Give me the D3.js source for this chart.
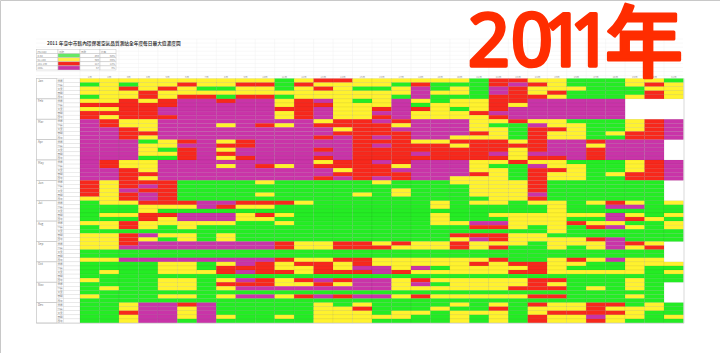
<!DOCTYPE html>
<html><head><meta charset="utf-8">
<script src="https://cdn.jsdelivr.net/npm/d3@7"></script>
<style>html,body{margin:0;padding:0;background:#fff}svg{display:block}text{font-family:"Noto Sans CJK TC","Noto Sans",sans-serif}</style>
</head><body><svg id="c" width="720" height="353"></svg>
<script>
const bigYear = "2011", bigUnit = "年";
const title = "2011 年臺中市轄內環保署空氣品質測站全年度每日最大值濃度圖";
const months = ["Jan","Feb","Mar","Apr","May","Jun","Jul","Aug","Sep","Oct","Nov","Dec"];
const stations = ["豐原","沙鹿","大里","忠明","西屯"];
const days = ["1日","2日","3日","4日","5日","6日","7日","8日","9日","10日","11日","12日","13日","14日","15日","16日","17日","18日","19日","20日","21日","22日","23日","24日","25日","26日","27日","28日","29日","30日","31日"];
const levels = ["G","Y","R","P"];
const levelColors = ["#24ec24","#fff22e","#f7281c","#c934a8"];
const legendHead = ["PSI/AQI","色階","日數","比率"];
const legendRange = ["0-50","51-100","101-199","200+"];
const legendColors = ["#66e866","#fff04a","#f5261c","#c733a6"];
const legendDays = ["869","609","217","57"];
const legendPct = ["50%","35%","12%","3%"];
// one string per station row, one letter per day; _ = no such date
const grid = [
"YYYYYYYYYYGYRRYYYYYYGRRYYGGGYYG","GYGYYRYYRRGRYYYYGRGGGRPRYGGGYRY","YYRYRYGGYYGYRYGGYPGYGPRYYYGGGYY","YYYRYYYYYYYYYYYYYPYYGPRYRGGGGRY","GYYRYRRGRRGYYYYYGPGGGRRRYGGGYRY",
"YYRYRPPRPPYRPYGYPYGYYRRPPPPP___","RRRRRPPPPPYRRYYYPGYYYRYPPPPP___","YYRRPPPPPPRRPYYRPRYGYRPPPPPP___","RRRRPPPPPPYRPYYPPYYYRPPPPPPP___","RYRRRPPPPPYRPYYRPYYYYRPPPPPP___",
"PRYYPPPPPPPPYRRPRPPPYYRYYGGGYRP","PRYYPPPYPRYPRRRRYPPPYGGPYYGGYRP","PPRYPPPPPPPPPYRRPPPPYYGRRYGGYRP","PPRRPPPPPPPPPRRRRPPPRYGRYYGYRRP","PPRYPPPPPPPPRPRPRPPYYYGRYYGGRRP",
"PPPGYRPYRPPPPPRRRYYRRRYRPPRPPP_","PPPYYPPRRPPPPPRPRRRYRRRRPPYPPP_","PPPYGRPYPPPPRPRRRRRRRRYRPPRPPP_","PPPYYRPRPPPPPPRRRPRRRPYPPPRPPP_","PPPGGRPYRPPPRPRRRRRRRRYRRPRPPP_",
"PRYYPPPPPPPPYRRPRPPPYYRYYGGGYRP","PRYYPPPYPRYPRRRRYPPPYGGPYYGGYRP","PPRYPPPPPPPPPYRRPPPPYYGRRYGGYRP","PPRRPPPPPPPPPRRRRPPPRYGRYYGYRRP","PPRYPPPPPPPPRPRPRPPYYYGRYYGGRRP",
"RYRRRGGGGYGGGGGYGGGYYYYRGGGGGG_","RYRPRGGGGGGGGGGGGGGGYYYRGGGGGG_","RYPRRGGGGGGGGGGGYGGGYYYRGGGGGG_","RYRPRGGGGYGGGGYGYGGGYYYPGGGGGG_","YYRPRGGGGGGGGGGGGGGGGYYRGGGGGG_",
"GYYRRRPPRRRYGGGGGGYGYYGYYGYRYGY","GGGYYYPRYYGGGGGGGGYGGGGGYGGPPGG","GGGYGGGGGGGGGGGGGGGGGGGGYGGGGGG","GYYRRPPPYRYGGGGGGGYGGYYYYYYPYGY","GGGRYPPPYYGGGGGGGGYGGGYYYGGPRYG",
"YYRYYYYYGGYGGGGGGGYYPPYYYRYYGGY","GYRYGYGGGGGGGGGGGGGGRRYGYGRPYGY","GGGGGGGGGGGGGGGGGGGGGGGGYGGGGGG","YYRPYYGYGGGGGGGGGGGRRRYYGGGGGGG","YYRYGYGYGGGGGGGGGGGYPRYYYYRPGGG",
"YYRPPPPPPPRYYRRYRYYRYYYGYYYPRY_","YYPPPPPPPPRYYRRRYYYRYRGGYGYPYR_","GGGGGGGGGGGGGGGGGGGGGGGGGGGGGG_","GGGGGGGGGGGGGGGGGGGGGGGGGGGGGG_","YYPPPPPPPPRYYRRYYYYYYRGGYRYPYY_",
"GGGGYYGYPRYRRYRYYYYYRYRRYYGGYYY","GGGGYYGRRRYYRYPPYPGYYYYRYGGGYGG","GYGGYYYRPRRYRRRPRYYYYYRRYYYYYGY","GGGGGGGGGGGGGGGGGGGGGGGGGGGGGGG","YGGGYYGYPRYRPRPPYRYYYYYRRGGGYGG",
"GGGGYYGRRRYYRYPPYPGYYYYRYGGGYG_","GYGGYYGYPPPPPPPPYYYYYYRRRGYGYG_","GGGGGGGGGGGGGGGGGGGGGGGGGGGGGG_","YGGGYYGYPPYRPRPPYRYYYYYRRGGGYG_","GGGGGGGGGGGGGGGGGGGGGGGGGGGGGG_",
"GGYPPRPGGGGGYGYGGGGYGYGRYYRRGYG","GGYPPYPGGGGGYYRGGGYGGRGYYYRYYYG","GGRPPYPGGGGGYYYGYYGYYYGYRRRRYGG","GGYPPYPYGGYGYYYYYGGYGYGRYYPYYGY","GGYPPGPGGGGGYYYGGGGYGYGRYYRYGGG"
];

const svg = d3.select("#c");
const cells = grid.flatMap((s,r)=>Array.from(s).map((v,c)=>({r,c,v})));
const rowIds = d3.range(grid.length);
const x = d3.scaleBand().domain(days).range([80,683.5]);
const y = d3.scaleBand().domain(rowIds).range([78.5,323]);
const color = d3.scaleOrdinal().domain(levels).range(levelColors);

svg.append("rect").attr("width",720).attr("height",353).attr("fill","#fff");
svg.append("path").attr("d","M0.5,353V0.5H720").attr("fill","none").attr("stroke","#c8c8c8");

// faint spreadsheet grid above the table
const g0 = svg.append("g").attr("stroke","#f0f0f0").attr("stroke-width",0.5);
days.forEach(d=>g0.append("line").attr("x1",x(d)).attr("x2",x(d)).attr("y1",39).attr("y2",78));
d3.range(39,78,4.07).forEach(v=>g0.append("line").attr("x1",36).attr("x2",683).attr("y1",v).attr("y2",v));

// title
svg.append("text").attr("x",47).attr("y",44.6).attr("font-size",4.7).attr("font-weight",500).attr("fill","#222").text(title);

// legend
const lx = [36.5,58,80,100,116], ly = d3.scaleBand().domain(d3.range(5)).range([49.5,70]);
const lg = svg.append("g");
[legendHead].concat(legendRange.map((t,i)=>[t,"",legendDays[i],legendPct[i]])).forEach((row,i)=>{
  row.forEach((t,j)=>{
    lg.append("rect").attr("x",lx[j]).attr("y",ly(i)).attr("width",lx[j+1]-lx[j]).attr("height",ly.bandwidth())
      .attr("fill",(i>0&&j==1)?legendColors[i-1]:"#fff").attr("stroke","#c4c4c4").attr("stroke-width",0.5);
    if(t) lg.append("text").attr("x",j>=2&&i>0?lx[j+1]-1:lx[j]+1).attr("y",ly(i)+3).attr("text-anchor",j>=2&&i>0?"end":"start")
      .attr("font-size",2.6).attr("fill","#888").text(t);
  });
});

// day header
const axg = svg.append("g").attr("transform","translate(0,78)").call(d3.axisTop(x).tickSize(0).tickPadding(0.5));
axg.select(".domain").remove();
axg.selectAll("text").attr("font-size",2.6).attr("fill","#999");

// month + station label boxes
const lab = svg.append("g");
months.forEach((m,i)=>{
  lab.append("rect").attr("x",36.5).attr("y",y(i*5)).attr("width",20.5).attr("height",y.step()*5)
    .attr("fill","#fff").attr("stroke","#c4c4c4").attr("stroke-width",0.7);
  lab.append("text").attr("x",38).attr("y",y(i*5)+3.6).attr("font-size",3).attr("fill","#777").text(m);
  stations.forEach((s,k)=>{
    lab.append("rect").attr("x",57).attr("y",y(i*5+k)).attr("width",6.5).attr("height",y.step())
      .attr("fill","#fff").attr("stroke","#d8d8d8").attr("stroke-width",0.4);
    lab.append("rect").attr("x",63.5).attr("y",y(i*5+k)).attr("width",16.5).attr("height",y.step())
      .attr("fill","#fff").attr("stroke","#d8d8d8").attr("stroke-width",0.4);
    lab.append("text").attr("x",57.4).attr("y",y(i*5+k)+3).attr("font-size",2.7).attr("fill","#777").text(s);
  });
});

// heat cells
svg.append("g").selectAll("rect").data(cells.filter(d=>d.v!=="_")).join("rect")
  .attr("x",d=>x(days[d.c])).attr("y",d=>y(d.r))
  .attr("width",x.bandwidth()).attr("height",y.bandwidth())
  .attr("fill",d=>color(d.v)).attr("stroke","rgba(0,0,0,0.1)").attr("stroke-width",0.5);

svg.append("path").attr("d",`M36.5,323.2H684V78.5`).attr("fill","none").attr("stroke","#cfcfcf").attr("stroke-width",0.8);

// big overlay title
const bigG = svg.append("g").attr("fill","#ff2d00").attr("stroke","#ff2d00").attr("stroke-linejoin","round").attr("stroke-linecap","round");
bigG.append("text").attr("x","468 511 543 570").attr("y",66).attr("font-size",73).attr("font-weight",400).attr("stroke-width",3.6).style("font-family","'Noto Sans',sans-serif").text(bigYear);
bigG.append("text").attr("x",605).attr("y",71).attr("font-size",78).attr("font-weight",500).attr("stroke-width",3).style("font-family","'Noto Sans CJK TC'").text(bigUnit);
</script></body></html>
